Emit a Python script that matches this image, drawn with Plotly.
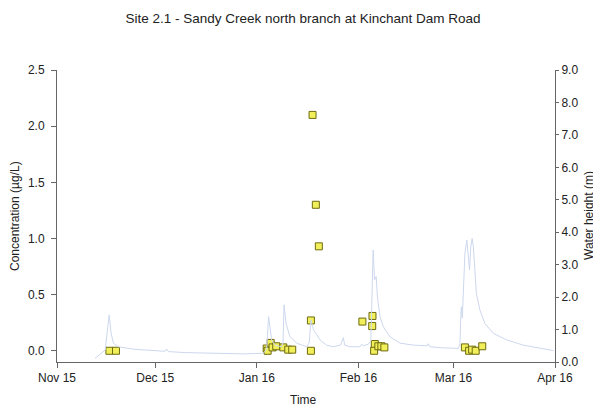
import plotly.graph_objects as go

# Concentration samples (µg/L)
sample_dates = [
    "2015-11-17 00:00", "2015-11-19 00:00",
    "2016-01-04 00:00", "2016-01-04 07:00", "2016-01-05 05:00", "2016-01-05 19:00",
    "2016-01-06 22:00", "2016-01-09 02:00", "2016-01-10 14:00", "2016-01-11 19:00",
    "2016-01-17 12:00", "2016-01-17 12:00", "2016-01-18 00:00", "2016-01-19 00:00",
    "2016-01-19 22:00",
    "2016-02-02 05:00", "2016-02-05 07:00", "2016-02-05 05:00", "2016-02-06 00:00",
    "2016-02-05 19:00", "2016-02-07 02:00", "2016-02-08 00:00", "2016-02-08 22:00",
    "2016-03-04 12:00", "2016-03-05 19:00", "2016-03-06 17:00", "2016-03-07 19:00",
    "2016-03-09 19:00",
]
concentration = [
    0.0, 0.0,
    0.02, 0.0, 0.07, 0.03,
    0.04, 0.03, 0.01, 0.01,
    0.27, 0.0, 2.10, 1.30,
    0.93,
    0.26, 0.31, 0.22, 0.06,
    0.0, 0.04, 0.04, 0.03,
    0.03, 0.0, 0.01, 0.0,
    0.04,
]

# Water height (m)
height_dates = [
    "2015-11-12 14:00", "2015-11-15 17:00", "2015-11-16 22:00", "2015-11-17 12:00",
    "2015-11-18 05:00", "2015-11-19 17:00", "2015-11-24 19:00", "2015-11-29 22:00",
    "2015-12-04 00:00", "2015-12-04 12:00", "2015-12-05 00:00", "2015-12-10 00:00",
    "2015-12-19 05:00", "2015-12-27 22:00", "2016-01-03 00:00", "2016-01-04 00:00",
    "2016-01-04 14:00", "2016-01-05 00:00", "2016-01-05 12:00", "2016-01-06 12:00",
    "2016-01-08 14:00", "2016-01-09 00:00", "2016-01-09 07:00", "2016-01-09 22:00",
    "2016-01-11 02:00", "2016-01-13 05:00", "2016-01-16 05:00", "2016-01-17 00:00",
    "2016-01-17 12:00", "2016-01-18 07:00", "2016-01-20 07:00", "2016-01-22 07:00",
    "2016-01-24 07:00", "2016-01-26 12:00", "2016-01-27 10:00", "2016-01-27 19:00",
    "2016-01-29 10:00", "2016-02-01 12:00", "2016-02-02 00:00", "2016-02-02 12:00",
    "2016-02-04 00:00", "2016-02-04 19:00", "2016-02-05 05:00", "2016-02-05 12:00",
    "2016-02-05 22:00", "2016-02-06 10:00", "2016-02-06 19:00", "2016-02-07 14:00",
    "2016-02-08 14:00", "2016-02-10 14:00", "2016-02-13 17:00", "2016-02-17 19:00",
    "2016-02-22 00:00", "2016-02-22 07:00", "2016-02-22 19:00", "2016-02-26 00:00",
    "2016-03-02 12:00", "2016-03-03 00:00", "2016-03-03 05:00", "2016-03-03 10:00",
    "2016-03-03 17:00", "2016-03-04 02:00", "2016-03-04 12:00", "2016-03-05 02:00",
    "2016-03-05 12:00", "2016-03-05 22:00", "2016-03-06 07:00", "2016-03-06 17:00",
    "2016-03-07 02:00", "2016-03-07 12:00", "2016-03-08 00:00", "2016-03-09 02:00",
    "2016-03-10 14:00", "2016-03-13 05:00", "2016-03-17 07:00", "2016-03-22 07:00",
    "2016-03-27 10:00", "2016-03-30 12:00", "2016-03-31 12:00",
]
water_height = [
    0.11, 0.37, 1.45, 0.90,
    0.58, 0.47, 0.39, 0.35,
    0.33, 0.40, 0.32, 0.29,
    0.28, 0.25, 0.27, 0.40,
    1.40, 0.99, 0.68, 0.52,
    0.47, 0.60, 1.76, 1.19,
    0.78, 0.58, 0.47, 0.60,
    1.30, 0.99, 0.68, 0.52,
    0.47, 0.52, 0.75, 0.52,
    0.47, 0.47, 0.55, 0.50,
    0.55, 0.65, 2.01, 3.45,
    2.53, 2.63, 2.01, 1.40,
    1.09, 0.78, 0.58, 0.52,
    0.50, 0.56, 0.47, 0.44,
    0.42, 0.57, 1.29, 1.70,
    1.35, 2.11, 3.34, 3.76,
    3.34, 2.84, 3.55, 3.81,
    3.55, 2.84, 2.11, 1.60,
    1.19, 0.88, 0.68, 0.52,
    0.42, 0.37, 0.35,
]

month_ticks = ["2015-11-01", "2015-12-01", "2016-01-01", "2016-02-01", "2016-03-01", "2016-04-01"]
month_labels = ["Nov 15", "Dec 15", "Jan 16", "Feb 16", "Mar 16", "Apr 16"]
conc_ticks = [0.0, 0.5, 1.0, 1.5, 2.0, 2.5]
height_ticks = [0, 1, 2, 3, 4, 5, 6, 7, 8, 9]

fig = go.Figure()
fig.add_trace(go.Scatter(
    x=height_dates, y=water_height, yaxis="y2", mode="lines",
    line=dict(color="#cdd8ee", width=1), showlegend=False, hoverinfo="skip",
))
fig.add_trace(go.Scatter(
    x=sample_dates, y=concentration, mode="markers",
    marker=dict(symbol="square", size=7, color="#f2f05a",
                line=dict(color="#6e6a10", width=1)),
    showlegend=False,
))

axis_col = "#666666"
font_col = "#222222"
OFF = 8  # page body margin
W, H = 601 - OFF, 409 - OFF
L, R, T, B = 57 - OFF, 46, 70 - OFF, 47
PW, PH = W - L - R, H - T - B

fig.update_layout(
    width=W, height=H,
    margin=dict(l=L, r=R, t=T, b=B, autoexpand=False),
    paper_bgcolor="white", plot_bgcolor="white",
    font=dict(family="Liberation Sans, Arial, sans-serif", size=12, color=font_col),
    title=dict(text="Site 2.1 - Sandy Creek north branch at Kinchant Dam Road",
               x=(303 - OFF) / W, xanchor="center", y=1 - (18 - OFF) / H, yanchor="middle",
               font=dict(size=13.5, color=font_col)),
    xaxis=dict(
        type="date", range=["2015-11-01", "2016-04-01"],
        tickvals=month_ticks, ticktext=month_labels, automargin=False,
        showgrid=False, zeroline=False, showline=True, linecolor=axis_col, linewidth=1,
        ticks="outside", ticklen=5, tickcolor=axis_col,
    ),
    yaxis=dict(
        range=[-0.1, 2.5], tickvals=conc_ticks, tickformat=".1f", automargin=False,
        showgrid=False, zeroline=False, showline=True, linecolor=axis_col, linewidth=1,
        ticks="outside", ticklen=5, tickcolor=axis_col, ticklabelstandoff=4,
    ),
    yaxis2=dict(
        overlaying="y", side="right", range=[0, 9], tickvals=height_ticks, tickformat=".1f",
        automargin=False,
        showgrid=False, zeroline=False, showline=True, linecolor=axis_col, linewidth=1,
        ticks="outside", ticklen=3, tickcolor=axis_col,
    ),
    annotations=[
        dict(text="Time", xref="paper", yref="paper", x=(303 - 57) / PW,
             y=-(400 - 362) / PH, xanchor="center", yanchor="middle",
             showarrow=False, font=dict(size=12, color=font_col)),
        dict(text="Concentration (µg/L)", xref="paper", yref="paper",
             x=-(57 - 15) / PW, y=0.5, xanchor="center", yanchor="middle",
             textangle=-90, showarrow=False, font=dict(size=12, color=font_col)),
        dict(text="Water height (m)", xref="paper", yref="paper",
             x=1 + (589 - 555) / PW, y=0.5, xanchor="center", yanchor="middle",
             textangle=-90, showarrow=False, font=dict(size=12, color=font_col)),
    ],
)

fig.write_html("out.html")
